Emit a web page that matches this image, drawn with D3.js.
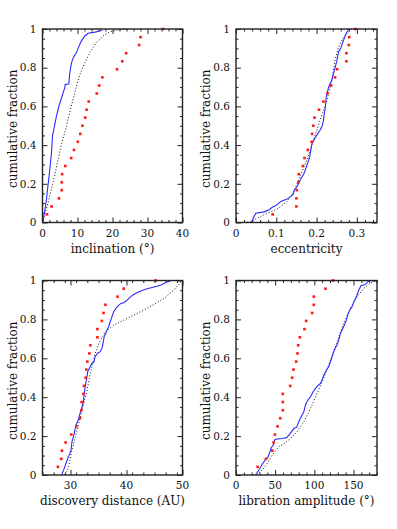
<!DOCTYPE html>
<html>
<head>
<meta charset="utf-8">
<script src="https://cdn.jsdelivr.net/npm/d3@7"></script>
<style>
  body { margin: 0; background: #fff; }
  svg text { font-family: "DejaVu Serif", serif; fill: #111; }
</style>
</head>
<body>
<div id="chart"></div>
<script>
// cumulative fraction of the observed sample (24 objects)
var obsFrac = [0.042, 0.083, 0.125, 0.167, 0.208, 0.25, 0.292, 0.333, 0.375, 0.417, 0.458, 0.5,
               0.542, 0.583, 0.625, 0.667, 0.708, 0.75, 0.792, 0.833, 0.875, 0.917, 0.958, 1.0];

// inclination (deg)
var incObs = [1.3, 2.6, 4.7, 5.5, 5.5, 5.6, 6.5, 8.2, 9.0, 10.1, 10.8, 11.4,
              12.2, 12.6, 13.2, 15.5, 16.2, 17.1, 21.3, 22.8, 23.9, 27.6, 28.0, 34.4];
var incSimX = [0, 0.57, 1.14, 1.33, 2.1, 2.57, 2.86, 3.43, 4.0, 4.7, 5.33, 5.9, 6.38, 6.5, 7.5,
               7.8, 8.3, 8.8, 9.7, 10.3, 11.0, 12.1, 13.0, 15.0, 16.4, 17.1];
var incSimY = [0, 0.05, 0.12, 0.154, 0.275, 0.361, 0.447, 0.499, 0.55, 0.602, 0.637, 0.671, 0.697, 0.714, 0.716,
               0.774, 0.826, 0.852, 0.878, 0.905, 0.935, 0.964, 0.978, 0.984, 0.99, 0.995];
var incModX = [0, 1.33, 2.29, 3.43, 4.48, 5.5, 6.86, 8.0, 9.2, 10.5, 12.1, 13.5, 15.4, 17.3, 19.2, 21.5, 24.5];
var incModY = [0, 0.085, 0.154, 0.24, 0.327, 0.41, 0.5, 0.585, 0.67, 0.757, 0.826, 0.877, 0.93, 0.964, 0.985, 0.995, 1.0];

// eccentricity
var eccObs = [0.091, 0.150, 0.150, 0.151, 0.155, 0.156, 0.166, 0.170, 0.178, 0.188, 0.189, 0.192,
              0.195, 0.206, 0.217, 0.227, 0.236, 0.246, 0.251, 0.274, 0.274, 0.280, 0.281, 0.296];
var eccSimX = [0.038, 0.045, 0.049, 0.07, 0.082, 0.09, 0.102, 0.111, 0.127, 0.141, 0.145, 0.152, 0.1595,
               0.169, 0.172, 0.183, 0.1886, 0.197, 0.209, 0.214, 0.217, 0.219, 0.222, 0.224, 0.23, 0.238,
               0.242, 0.25, 0.2546, 0.26, 0.267, 0.274, 0.28];
var eccSimY = [0, 0.031, 0.048, 0.055, 0.066, 0.079, 0.091, 0.109, 0.121, 0.143, 0.169, 0.186, 0.22,
               0.255, 0.271, 0.34, 0.409, 0.44, 0.478, 0.5, 0.525, 0.56, 0.6, 0.65, 0.70, 0.736,
               0.771, 0.831, 0.883, 0.9, 0.943, 0.979, 1.0];
var eccModX = [0.02, 0.037, 0.05, 0.069, 0.102, 0.127, 0.145, 0.16, 0.176, 0.1926, 0.209, 0.2258, 0.238,
               0.246, 0.2546, 0.265, 0.276, 0.286, 0.3];
var eccModY = [0, 0.003, 0.02, 0.04, 0.069, 0.109, 0.165, 0.245, 0.323, 0.426, 0.53, 0.633, 0.736,
               0.84, 0.908, 0.95, 0.98, 0.997, 1.0];

// discovery distance (AU)
var disObs = [27.75, 28.35, 28.47, 29.13, 30.14, 31.04, 31.7, 31.94, 32.0, 32.3, 32.4, 32.7,
              32.83, 33.0, 33.37, 33.55, 34.8, 34.8, 35.6, 35.9, 36.24, 38.4, 39.5, 45.2];
var disSimX = [28.4, 28.83, 29.3, 29.6, 29.9, 30.1, 30.26, 30.6, 30.98, 31.4, 31.7, 32.0, 32.3, 32.5, 32.65,
               32.9, 33.07, 33.5, 33.8, 34.2, 34.4, 34.8, 35.3, 35.6, 35.8, 36.0, 36.4, 36.8, 37.2, 37.7,
               38.3, 39.0, 39.6, 40.1, 40.7, 41.3, 42.2, 43.4, 44.9, 46.1, 47.0, 48.0];
var disSimY = [0, 0.03, 0.068, 0.094, 0.111, 0.128, 0.171, 0.205, 0.257, 0.283, 0.317, 0.342, 0.377, 0.428, 0.462,
               0.497, 0.531, 0.557, 0.574, 0.582, 0.608, 0.625, 0.634, 0.651, 0.676, 0.71, 0.736, 0.762, 0.796, 0.839,
               0.865, 0.882, 0.887, 0.899, 0.916, 0.928, 0.942, 0.955, 0.967, 0.976, 0.99, 1.0];
var disModX = [29.0, 29.6, 30.2, 31.1, 32.0, 32.9, 33.6, 34.4, 35.2, 36.2, 37.7, 39.5, 41.3, 43.1, 44.9, 46.7, 48.4, 50];
var disModY = [0, 0.034, 0.12, 0.223, 0.325, 0.428, 0.531, 0.625, 0.685, 0.736, 0.77, 0.796, 0.822, 0.848, 0.877, 0.908, 0.95, 1.0];

// libration amplitude (deg)
var libObs = [27.6, 38.2, 46.3, 48.0, 49.7, 53.1, 56.5, 59.8, 59.8, 59.8, 69.2, 71.7,
              73.4, 76.8, 78.5, 79.4, 81.5, 87.4, 89.6, 97.2, 99.3, 99.3, 114.2, 123.9];
var libSimX = [25, 29.3, 33.5, 37.8, 41.2, 43.3, 45, 47.5, 49.2, 52.6, 59, 64.5, 67.5, 70.9, 73.9, 77.3, 80.2,
               83.2, 86.6, 88.7, 91.7, 95.1, 98.5, 101.4, 104.4, 107.8, 109.9, 112.1, 115.4, 118.4, 120.5,
               122.7, 124.8, 126.9, 129.0, 131.2, 133.3, 135.4, 138.4, 140.9, 142.6, 145.2, 148.1, 150.3,
               153.7, 156.6, 159.6, 165.1, 168.1, 171.5];
var libSimY = [0, 0.026, 0.055, 0.08, 0.094, 0.12, 0.14, 0.154, 0.18, 0.185, 0.188, 0.192, 0.205, 0.223, 0.24, 0.245, 0.274,
               0.3, 0.325, 0.36, 0.385, 0.402, 0.428, 0.445, 0.459, 0.471, 0.488, 0.514, 0.539, 0.557, 0.582,
               0.608, 0.634, 0.654, 0.668, 0.693, 0.728, 0.745, 0.771, 0.796, 0.822, 0.848, 0.865, 0.89,
               0.916, 0.95, 0.973, 0.979, 0.993, 1.0];
var libModX = [26.3, 33.5, 39.9, 46.3, 54.8, 62, 69.6, 78.1, 86.6, 95.1, 103.6, 112, 120.5, 129, 137.5, 146, 154.5, 163, 171.5, 177.8];
var libModY = [0, 0.026, 0.06, 0.103, 0.146, 0.163, 0.188, 0.223, 0.274, 0.342, 0.42, 0.497, 0.59, 0.685, 0.779, 0.856, 0.916, 0.959, 0.985, 1.0];

var yTicks = [0, 0.2, 0.4, 0.6, 0.8, 1];

// panel layout
var panels = [
  { left: 42.5, top: 29, right: 182.5, bottom: 222.5, xDomain: [0, 40], xMajor: [0, 10, 20, 30, 40], xMinorStep: 2,
    xFmt: d3.format("d"), label: "inclination (\u00b0)", obs: incObs, simX: incSimX, simY: incSimY, modX: incModX, modY: incModY },
  { left: 236, top: 29, right: 377, bottom: 222.5, xDomain: [0, 0.35], xMajor: [0, 0.1, 0.2, 0.3], xMinorStep: 0.02,
    xFmt: function (d) { return d === 0 ? "0" : d3.format(".1f")(d); }, label: "eccentricity", obs: eccObs, simX: eccSimX, simY: eccSimY, modX: eccModX, modY: eccModY },
  { left: 42.5, top: 280.5, right: 182.5, bottom: 475, xDomain: [25, 50], xMajor: [30, 40, 50], xMinorStep: 2,
    xFmt: d3.format("d"), label: "discovery distance (AU)", obs: disObs, simX: disSimX, simY: disSimY, modX: disModX, modY: disModY },
  { left: 236, top: 280.5, right: 377, bottom: 475, xDomain: [0, 180], xMajor: [0, 50, 100, 150], xMinorStep: 10,
    xFmt: d3.format("d"), label: "libration amplitude (\u00b0)", obs: libObs, simX: libSimX, simY: libSimY, modX: libModX, modY: libModY }
];

var svg = d3.select("#chart").append("svg").attr("width", 397).attr("height", 529);

panels.forEach(drawPanel);

/**
 * draws one cumulative distribution panel
 */
function drawPanel(p) {
  var x = d3.scaleLinear().domain(p.xDomain).range([p.left, p.right]);
  var y = d3.scaleLinear().domain([0, 1]).range([p.bottom, p.top]);
  var g = svg.append("g");
  var w = p.right - p.left, h = p.bottom - p.top;

  // minor tick positions
  var xMinor = d3.range(p.xDomain[0], p.xDomain[1] + 1e-9, p.xMinorStep).filter(function (v) {
    return !p.xMajor.some(function (m) { return Math.abs(m - v) < 1e-9; });
  });
  var yMinor = d3.range(0, 1.0001, 0.05).filter(function (v) {
    return !yTicks.some(function (m) { return Math.abs(m - v) < 1e-9; });
  });

  var tickStyle = function (sel) { sel.select(".domain").remove(); sel.selectAll("line").attr("stroke", "#222").attr("stroke-width", 1); sel.selectAll("text").remove(); };

  // ticks on all four sides, pointing inward
  g.append("g").attr("transform", "translate(0," + p.bottom + ")").call(d3.axisTop(x).tickValues(p.xMajor).tickSize(5)).call(tickStyle);
  g.append("g").attr("transform", "translate(0," + p.bottom + ")").call(d3.axisTop(x).tickValues(xMinor).tickSize(2.5)).call(tickStyle);
  g.append("g").attr("transform", "translate(0," + p.top + ")").call(d3.axisBottom(x).tickValues(p.xMajor).tickSize(5)).call(tickStyle);
  g.append("g").attr("transform", "translate(0," + p.top + ")").call(d3.axisBottom(x).tickValues(xMinor).tickSize(2.5)).call(tickStyle);
  g.append("g").attr("transform", "translate(" + p.left + ",0)").call(d3.axisRight(y).tickValues(yTicks).tickSize(5)).call(tickStyle);
  g.append("g").attr("transform", "translate(" + p.left + ",0)").call(d3.axisRight(y).tickValues(yMinor).tickSize(2.5)).call(tickStyle);
  g.append("g").attr("transform", "translate(" + p.right + ",0)").call(d3.axisLeft(y).tickValues(yTicks).tickSize(5)).call(tickStyle);
  g.append("g").attr("transform", "translate(" + p.right + ",0)").call(d3.axisLeft(y).tickValues(yMinor).tickSize(2.5)).call(tickStyle);

  // tick labels
  g.selectAll(".xl").data(p.xMajor).enter().append("text")
    .attr("x", function (d) { return x(d); }).attr("y", p.bottom + 14)
    .attr("text-anchor", "middle").attr("font-size", "10.5px").text(p.xFmt);
  g.selectAll(".yl").data(yTicks).enter().append("text")
    .attr("x", p.left - 6).attr("y", function (d) { return y(d); }).attr("dy", "0.36em")
    .attr("text-anchor", "end").attr("font-size", "10.5px")
    .text(function (d) { return d === 0 || d === 1 ? d3.format("d")(d) : d3.format(".1f")(d); });

  // axis titles
  g.append("text").attr("x", (p.left + p.right) / 2).attr("y", p.bottom + 30)
    .attr("text-anchor", "middle").attr("font-size", "12px").text(p.label);
  g.append("text").attr("transform", "translate(" + (p.left - 26) + "," + ((p.top + p.bottom) / 2 + 3) + ") rotate(-90)")
    .attr("text-anchor", "middle").attr("font-size", "12px").text("cumulative fraction");

  // clip the curves to the frame
  var clipId = "clip" + Math.round(p.left) + "_" + Math.round(p.top);
  svg.append("clipPath").attr("id", clipId).append("rect")
    .attr("x", p.left).attr("y", p.top - 1).attr("width", w).attr("height", h + 2);
  var plot = g.append("g").attr("clip-path", "url(#" + clipId + ")");

  var line = d3.line().x(function (d) { return x(d[0]); }).y(function (d) { return y(d[1]); });

  // model distribution (dotted)
  plot.append("path").datum(d3.zip(p.modX, p.modY)).attr("d", line)
    .attr("fill", "none").attr("stroke", "#111").attr("stroke-width", 1).attr("stroke-dasharray", "1,2");

  // simulated sample (blue)
  plot.append("path").datum(d3.zip(p.simX, p.simY)).attr("d", line)
    .attr("fill", "none").attr("stroke", "#2b2bff").attr("stroke-width", 1.1);

  // observed objects (red squares)
  g.selectAll(".obs").data(d3.zip(p.obs, obsFrac)).enter().append("rect")
    .attr("x", function (d) { return x(d[0]) - 1.3; }).attr("y", function (d) { return y(d[1]) - 1.3; })
    .attr("width", 2.6).attr("height", 2.6).attr("fill", "#ff1a1a");

  // frame
  g.append("rect").attr("x", p.left).attr("y", p.top).attr("width", w).attr("height", h)
    .attr("fill", "none").attr("stroke", "#222").attr("stroke-width", 1.4);
}
</script>
</body>
</html>
